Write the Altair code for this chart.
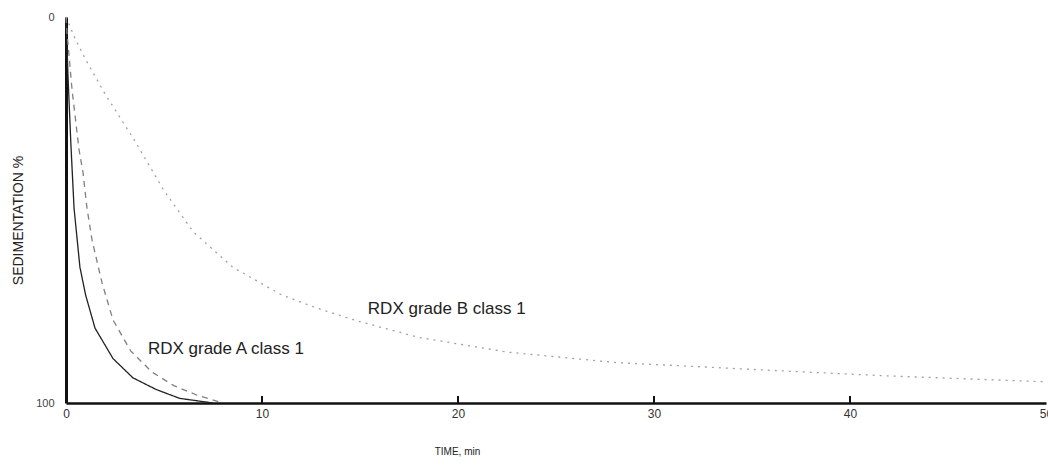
import altair as alt
import pandas as pd

# Grade A, sample 1 (solid line)
time_a1 = [0, 0.1, 0.25, 0.41, 0.71, 1.0, 1.48, 2.4, 3.42, 4.6, 5.8, 7.5]
sed_a1 = [0, 15, 33, 49.5, 64.8, 72, 80.6, 88.5, 93.5, 96.5, 98.8, 100]

# Grade A, sample 2 (dashed line)
time_a2 = [0, 0.05, 0.31, 0.66, 0.87, 1.07, 1.33, 1.84, 2.4, 3.3, 4.39, 5.5, 6.7, 8.0]
sed_a2 = [0, 4, 18.9, 34.2, 40.4, 49.5, 57.8, 68.9, 78.5, 86.5, 92, 95.5, 98, 100]

# Grade B (dotted line)
time_b = [0, 0.5, 1, 2, 3.5, 5, 6.5, 8.5, 11, 12.8, 14.9, 18, 22.5, 28, 35.8, 42, 50]
sed_b = [0, 6, 11, 20, 32, 45, 55.7, 64.8, 72, 75.4, 78.8, 83, 86.8, 89.5, 91.5, 93, 94.5]

x_tick_values = [0, 10, 20, 30, 40, 50]
y_tick_values = [0, 100]
inner_ticks = [10, 20, 30, 40]

label_text = ["RDX grade B class 1", "RDX grade A class 1"]
label_t = [15.4, 4.18]
label_s = [75.6, 86.0]

rows = []
for name, ts, ss in [("A1", time_a1, sed_a1), ("A2", time_a2, sed_a2), ("B", time_b, sed_b)]:
    for i, (t, s) in enumerate(zip(ts, ss)):
        rows.append({"series": name, "t": t, "s": s, "order": i})
df = pd.DataFrame(rows)

df_ticks = pd.DataFrame({"t": inner_ticks, "s": [100] * len(inner_ticks), "s2": [98.2] * len(inner_ticks)})
df_labels = pd.DataFrame({"t": label_t, "s": label_s, "label": label_text})

FONT = "Liberation Sans"
x_scale = alt.Scale(domain=[0, 50], nice=False, zero=False)
y_scale = alt.Scale(domain=[0, 100], reverse=True, nice=False)

x_axis = alt.Axis(values=x_tick_values, ticks=False, grid=False, domainWidth=2.5, domainColor="#111",
                  labelFont=FONT, labelFontSize=12, labelColor="#333", labelPadding=5, labelFlush=False,
                  title="TIME, min", titleFont=FONT, titleFontSize=10, titleFontWeight="normal",
                  titleColor="#222", titleX=391, titleY=43)
y_axis = alt.Axis(values=y_tick_values, ticks=False, grid=False, domainWidth=3, domainColor="#111",
                  labelFont=FONT, labelFontSize=11, labelColor="#444", labelPadding=12,
                  title="SEDIMENTATION %", titleFont=FONT, titleFontSize=14, titleFontWeight="normal",
                  titleColor="#222", titleAngle=270, titleX=-48, titleY=203, titleAlign="center",
                  titleBaseline="middle")

lines = alt.Chart(df).mark_line(strokeWidth=1.3).encode(
    x=alt.X("t:Q", scale=x_scale, axis=x_axis),
    y=alt.Y("s:Q", scale=y_scale, axis=y_axis),
    order="order:Q",
    color=alt.Color("series:N", scale=alt.Scale(domain=["A1", "A2", "B"], range=["#222222", "#808080", "#a0a0a0"]), legend=None),
    strokeDash=alt.StrokeDash("series:N", scale=alt.Scale(domain=["A1", "A2", "B"], range=[[1, 0], [6, 5], [2, 5]]), legend=None),
)

ticks = alt.Chart(df_ticks).mark_rule(strokeWidth=2, color="#111").encode(
    x=alt.X("t:Q", scale=x_scale), y=alt.Y("s:Q", scale=y_scale), y2="s2:Q"
)

labels = alt.Chart(df_labels).mark_text(align="left", baseline="middle", font=FONT, fontSize=17, color="#222").encode(
    x=alt.X("t:Q", scale=x_scale), y=alt.Y("s:Q", scale=y_scale), text="label:N"
)

chart = alt.layer(lines, ticks, labels).properties(
    width=980, height=386,
    autosize=alt.AutoSizeParams(type="none"),
    padding={"left": 66, "top": 17, "right": 2, "bottom": 63},
    background="white",
).configure_view(stroke=None)

chart.save("out.html", embed_options={"renderer": "svg", "actions": False})
